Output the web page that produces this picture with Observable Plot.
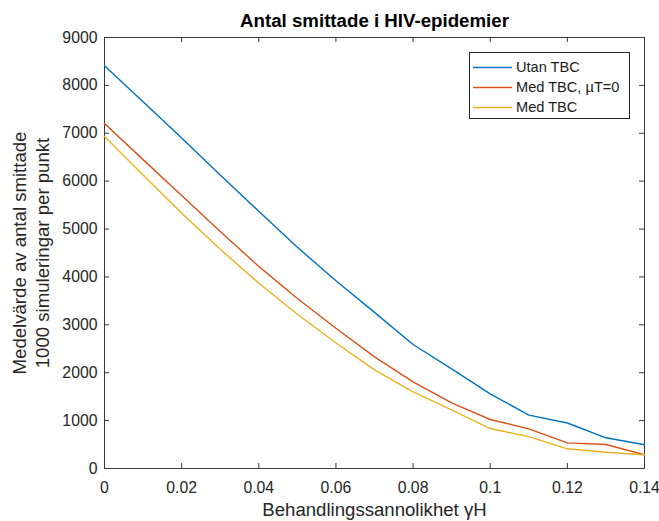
<!DOCTYPE html>
<html>
<head>
<meta charset="utf-8">
<script src="https://cdn.jsdelivr.net/npm/d3@7"></script>
<script src="https://cdn.jsdelivr.net/npm/@observablehq/plot@0.6"></script>
<style>
  body { margin: 0; background: #fff; }
  #wrap { position: relative; width: 659px; height: 521px; overflow: hidden; background: #fff;
          font-family: "Liberation Sans", Arial, Helvetica, sans-serif; }
  #legend { position: absolute; left: 469px; top: 52px; width: 161px; height: 67px; box-sizing: border-box;
            border: 1px solid #262626; background: #fff; z-index: 2; }
  .lrow { position: absolute; left: 0; height: 20px; width: 100%; }
  .lrow svg { position: absolute; left: 3px; top: 0; }
  .lrow span { position: absolute; left: 46px; top: 0; line-height: 20px; font-size: 14.6px; color: #1a1a1a; white-space: nowrap; }
</style>
</head>
<body>
<div id="wrap"><div id="legend"></div></div>
<script>
// ---- data ----
const xValues   = [0, 0.01, 0.02, 0.03, 0.04, 0.05, 0.06, 0.07, 0.08, 0.09, 0.10, 0.11, 0.12, 0.13, 0.14];
const utanTBC   = [8410, 7660, 6900, 6130, 5370, 4620, 3920, 3260, 2590, 2080, 1560, 1115, 950, 641, 495];
const medTBCmu0 = [7205, 6450, 5700, 4950, 4220, 3550, 2930, 2330, 1810, 1370, 1023, 828, 535, 501, 288];
const medTBC    = [6935, 6130, 5330, 4580, 3870, 3220, 2620, 2060, 1600, 1225, 835, 665, 411, 338, 288];
const seriesNames  = ["Utan TBC", "Med TBC, \u00b5T=0", "Med TBC"];
const seriesColors = ["#0072BD", "#D95319", "#EDB120"];
const xTicks      = [0, 0.02, 0.04, 0.06, 0.08, 0.10, 0.12, 0.14];
const xTickLabels = ["0", "0.02", "0.04", "0.06", "0.08", "0.1", "0.12", "0.14"];
const yTicks      = [0, 1000, 2000, 3000, 4000, 5000, 6000, 7000, 8000, 9000];
const yTickLabels = ["0", "1000", "2000", "3000", "4000", "5000", "6000", "7000", "8000", "9000"];
const titleText = "Antal smittade i HIV-epidemier";
const xLabel = "Behandlingssannolikhet \u03b3H";
const yLabelLines = ["Medelv\u00e4rde av antal smittade", "1000 simuleringar per punkt"];

// ---- build table ----
const seriesValues = [utanTBC, medTBCmu0, medTBC];
const rows = [];
seriesValues.forEach((vals, s) => vals.forEach((v, i) => rows.push({x: xValues[i], y: v, series: seriesNames[s]})));

const W = 659, H = 521, mL = 104, mR = 15, mT = 37, mB = 53;
const innerW = W - mL - mR, innerH = H - mT - mB;
const tickLen = 5;
const axisColor = "#3a3a3a";
const textColor = "#262626";

const chart = Plot.plot({
  width: W, height: H,
  marginLeft: mL, marginRight: mR, marginTop: mT, marginBottom: mB,
  x: {domain: [0, 0.14], axis: null},
  y: {domain: [0, 9000], axis: null},
  color: {domain: seriesNames, range: seriesColors},
  style: {fontFamily: "'Liberation Sans', Arial, Helvetica, sans-serif", fontSize: "15.8px", color: textColor, background: "#fff", overflow: "visible"},
  marks: [
    Plot.frame({stroke: axisColor, strokeWidth: 1}),
    Plot.tickX(xTicks, {x: d => d, stroke: axisColor, insetTop: innerH - tickLen}),
    Plot.tickX(xTicks, {x: d => d, stroke: axisColor, insetBottom: innerH - tickLen}),
    Plot.tickY(yTicks, {y: d => d, stroke: axisColor, insetRight: innerW - tickLen}),
    Plot.tickY(yTicks, {y: d => d, stroke: axisColor, insetLeft: innerW - tickLen}),
    Plot.axisX({ticks: xTicks, tickFormat: d => xTickLabels[xTicks.indexOf(d)], tickSize: 0, tickPadding: 13, label: null, fill: textColor}),
    Plot.axisY({ticks: yTicks, tickFormat: d => yTickLabels[yTicks.indexOf(d)], tickSize: 0, tickPadding: 7, label: null, fill: textColor}),
    Plot.line(rows, {x: "x", y: "y", z: "series", stroke: "series", strokeWidth: 1.4}),
    Plot.text([titleText], {text: d => d, frameAnchor: "top", textAnchor: "middle", lineAnchor: "middle", dy: -16, fontWeight: "bold", fontSize: 18.7, fill: "#000"}),
    Plot.text([xLabel], {text: d => d, frameAnchor: "bottom", textAnchor: "middle", lineAnchor: "middle", dy: 42, fontSize: 18.6, fill: textColor}),
    Plot.text([yLabelLines[0]], {text: d => d, frameAnchor: "left", textAnchor: "middle", lineAnchor: "middle", rotate: -90, dx: -84, fontSize: 18.6, fill: textColor}),
    Plot.text([yLabelLines[1]], {text: d => d, frameAnchor: "left", textAnchor: "middle", lineAnchor: "middle", rotate: -90, dx: -61, fontSize: 18.6, fill: textColor})
  ]
});
document.getElementById("wrap").appendChild(chart);

// ---- legend ----
const legend = document.getElementById("legend");
seriesNames.forEach((name, i) => {
  const row = document.createElement("div");
  row.className = "lrow";
  row.style.top = (4 + i * 20) + "px";
  row.innerHTML = `<svg width="40" height="20"><line x1="0" x2="39" y1="10.5" y2="10.5" stroke="${seriesColors[i]}" stroke-width="1.4"/></svg><span>${name}</span>`;
  legend.appendChild(row);
});
</script>
</body>
</html>
